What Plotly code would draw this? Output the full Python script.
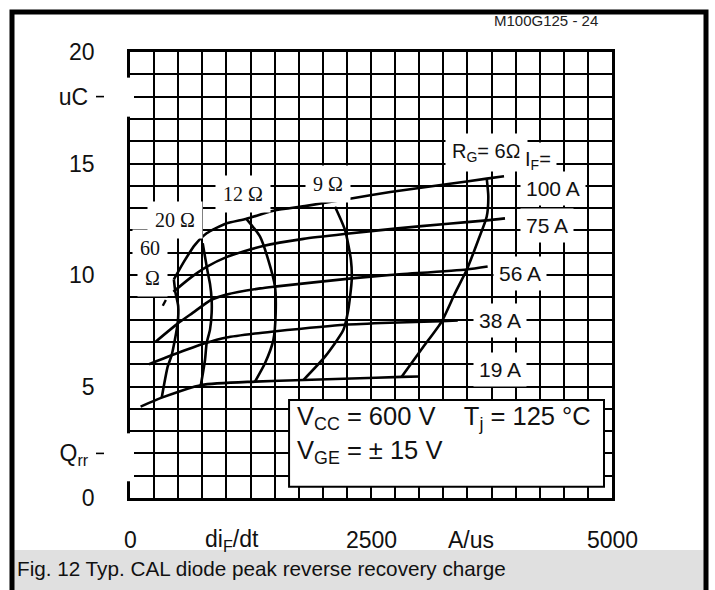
import plotly.graph_objects as go

# ---------------- data (di_F/dt in A/us, Q_rr in uC) ----------------
# constant forward-current curves
if19_x = [110, 329, 743, 1297, 1798, 2300, 2818, 3000]
if19_y = [4.10, 4.50, 5.07, 5.22, 5.29, 5.36, 5.43, 5.45]
if38_x = [197, 432, 778, 1000, 1297, 1490, 2230, 2697, 3233, 3400]
if38_y = [6.00, 6.40, 6.94, 7.20, 7.38, 7.47, 7.77, 7.86, 7.93, 7.96]
if56_x = [266, 494, 650, 840, 1000, 1350, 1500, 2300, 2697, 3492, 3710]
if56_y = [7.01, 7.82, 8.30, 8.88, 9.12, 9.40, 9.48, 9.85, 10.00, 10.25, 10.38]
if75_x = [450, 620, 790, 1000, 1380, 1800, 2248, 2750, 3300, 3700, 3890]
if75_y = [9.25, 9.85, 10.35, 10.80, 11.30, 11.62, 11.85, 12.08, 12.30, 12.45, 12.54]
if100_x = [455, 560, 674, 795, 985, 1210, 1490, 1830, 2280, 2700, 3300, 3700, 3880]
if100_y = [9.80, 10.60, 11.35, 11.87, 12.29, 12.52, 12.88, 13.10, 13.42, 13.72, 14.08, 14.32, 14.43]

# constant gate-resistance curves
rg60_x = [329, 391, 432, 494, 500, 470, 455]
rg60_y = [4.50, 5.89, 6.40, 7.82, 8.60, 9.25, 9.80]
rg20_x = [735, 778, 795, 830, 847, 847, 830, 802, 754]
rg20_y = [5.07, 6.19, 6.94, 7.55, 8.30, 8.88, 9.60, 10.22, 11.42]
rg12_x = [1297, 1400, 1487, 1511, 1504, 1435, 1349, 1203]
rg12_y = [5.22, 6.04, 7.08, 8.28, 9.48, 10.67, 11.72, 12.54]
rg9_x = [1798, 2023, 2213, 2264, 2300, 2292, 2230, 2127]
rg9_y = [5.29, 6.34, 7.53, 8.43, 9.78, 10.67, 12.02, 13.06]
rg6_x = [2818, 3043, 3233, 3371, 3492, 3613, 3700, 3717, 3700]
rg6_y = [5.44, 6.78, 7.91, 9.18, 10.22, 11.57, 12.61, 13.51, 14.34]

stub_x = [340, 372]
stub_y = [8.62, 8.88]

# axis ticks / labels
y_tickvals = [0, 2, 5, 10, 15, 18, 20]
y_ticktext = ["0", "Q<sub>rr</sub>\u00a0", "5", "10", "15", "uC\u00a0", "20"]
y_dash_vals = [2, 18]
x_label_vals = [0, 1055, 2500, 3535, 5000]
x_label_text = ["0", "di<sub>F</sub>/dt", "2500", "A/us", "5000"]

if_labels = ["100 A", "75 A", "56 A", "38 A", "19 A"]
rg_labels = ["60", "\u03a9", "20 \u03a9", "12 \u03a9", "9 \u03a9"]

# ---------------- layout helpers ----------------
W, H = 715, 590
L, R, T, B = 130, 612, 52, 498


def px(x):
    return (x - L) / (R - L)


def py(y):
    return (B - y) / (B - T)


SANS = "Liberation Sans, Arial, sans-serif"
SERIF = "Liberation Serif, Times New Roman, serif"

fig = go.Figure()

curves = [
    (if19_x, if19_y), (if38_x, if38_y), (if56_x, if56_y), (if75_x, if75_y), (if100_x, if100_y),
    (rg60_x, rg60_y), (rg20_x, rg20_y), (rg12_x, rg12_y), (rg9_x, rg9_y), (rg6_x, rg6_y),
]
for cx, cy in curves:
    fig.add_trace(go.Scatter(
        x=cx, y=cy, mode="lines",
        line=dict(color="black", width=2.6, shape="spline", smoothing=0.6),
        hoverinfo="skip", showlegend=False))
fig.add_trace(go.Scatter(x=stub_x, y=stub_y, mode="lines",
                         line=dict(color="black", width=2.4),
                         hoverinfo="skip", showlegend=False))

ann = []
# x-axis labels
for v, t in zip(x_label_vals, x_label_text):
    ann.append(dict(x=v, xref="x", y=py(540), yref="paper", text=t, showarrow=False,
                    xanchor="center", yanchor="middle",
                    font=dict(family=SANS, size=23, color="#111")))

# I_F labels on the right
if_pos = [(4383, 13.89), (4322, 12.20), (4045, 10.08), (3838, 7.98), (3838, 5.78)]
for (lx, ly), t in zip(if_pos, if_labels):
    ann.append(dict(x=lx, y=ly, text=t, showarrow=False, xanchor="center", yanchor="middle",
                    bgcolor="white", borderpad=5,
                    font=dict(family=SANS, size=21, color="#111")))
ann.append(dict(x=3693, y=15.5, text="R<sub>G</sub>= 6\u03a9", showarrow=False,
                xanchor="center", yanchor="middle", bgcolor="white", borderpad=6,
                font=dict(family=SANS, size=20, color="#111")))
ann.append(dict(x=4233, y=15.12, text="I<sub>F</sub>=", showarrow=False,
                xanchor="center", yanchor="middle", bgcolor="white", borderpad=5,
                font=dict(family=SANS, size=20, color="#111")))

# R_G labels (serif)
rg_pos = [(207, 11.2), (233, 9.87), (467, 12.47), (1167, 13.63), (2049, 14.08)]
for (lx, ly), t in zip(rg_pos, rg_labels):
    ann.append(dict(x=lx, y=ly, text=t, showarrow=False, xanchor="center", yanchor="middle",
                    bgcolor="white", borderpad=7,
                    font=dict(family=SERIF, size=20, color="#111")))

# condition box text
ann.append(dict(x=1711, y=3.6, xanchor="left", yanchor="middle",
                text="V<sub>CC</sub> = 600 V\u00a0\u00a0\u00a0\u00a0T<sub>j</sub> = 125 \u00b0C",
                showarrow=False, font=dict(family=SANS, size=25.5, color="#111")))
ann.append(dict(x=1711, y=2.06, xanchor="left", yanchor="middle",
                text="V<sub>GE</sub> = \u00b1 15 V",
                showarrow=False, font=dict(family=SANS, size=25.5, color="#111")))

# header code and caption
ann.append(dict(x=px(546), y=py(21), xref="paper", yref="paper", text="M100G125 - 24",
                xanchor="center", yanchor="middle",
                showarrow=False, font=dict(family=SANS, size=15, color="#222")))
ann.append(dict(x=px(15), y=py(568), xref="paper", yref="paper", xanchor="left",
                yanchor="middle",
                text="Fig. 12 Typ. CAL diode peak reverse recovery charge",
                showarrow=False, font=dict(family=SANS, size=20.7, color="#111")))

shapes = [
    # condition box
    dict(type="rect", xref="x", yref="y", x0=1650, x1=4917, y0=0.5, y1=4.39,
         fillcolor="white", line=dict(color="black", width=2), layer="above"),
    # gaps in left axis line at the text labels
    dict(type="rect", xref="paper", yref="y", x0=px(126), x1=px(134), y0=17.1, y1=18.85,
         fillcolor="white", line=dict(width=0), layer="above"),
    dict(type="rect", xref="paper", yref="y", x0=px(126), x1=px(134), y0=0.75, y1=2.9,
         fillcolor="white", line=dict(width=0), layer="above"),
    # caption band
    dict(type="rect", xref="paper", yref="paper", x0=px(14), x1=px(704), y0=py(600), y1=py(550),
         fillcolor="#e0e0e0", line=dict(width=0), layer="above"),
    # outer frame
    dict(type="rect", xref="paper", yref="paper", x0=px(12), x1=px(706), y0=py(640), y1=py(12),
         fillcolor="rgba(0,0,0,0)", line=dict(color="black", width=5), layer="above"),
]
# short leader dashes after the "uC" and "Qrr" labels
for v in y_dash_vals:
    shapes.append(dict(type="line", xref="paper", yref="y", x0=px(96), x1=px(104), y0=v, y1=v,
                       line=dict(color="black", width=1.6), layer="above"))

fig.update_layout(
    width=W, height=H,
    margin=dict(l=L, r=W - R, t=T, b=H - B, autoexpand=False),
    paper_bgcolor="white", plot_bgcolor="white",
    showlegend=False,
    annotations=ann, shapes=shapes,
    xaxis=dict(range=[0, 5000], tickvals=[0, 2500, 5000], showticklabels=False,
               showgrid=True, gridcolor="black", gridwidth=1.6,
               minor=dict(dtick=250, tick0=0, showgrid=True, gridcolor="black", gridwidth=1.6),
               showline=True, linecolor="black", linewidth=2.6, mirror=True,
               zeroline=False, ticks="", fixedrange=True),
    yaxis=dict(range=[0, 20], tickvals=y_tickvals, ticktext=y_ticktext,
               showgrid=True, gridcolor="black", gridwidth=1.6,
               minor=dict(dtick=1, tick0=0, showgrid=True, gridcolor="black", gridwidth=1.6),
               showline=True, linecolor="black", linewidth=2.6, mirror=True,
               zeroline=False, ticks="", ticklabelstandoff=28,
               tickfont=dict(family=SANS, size=23, color="#111"), fixedrange=True),
)

fig.write_html("out.html", config={"displayModeBar": False})

# remove the browser's default page margin so the figure sits at the window origin
with open("out.html", "r", encoding="utf-8") as f:
    html = f.read()
html = html.replace("<head>", "<head><style>html,body{margin:0;padding:0;overflow:hidden;}</style>", 1)
with open("out.html", "w", encoding="utf-8") as f:
    f.write(html)
